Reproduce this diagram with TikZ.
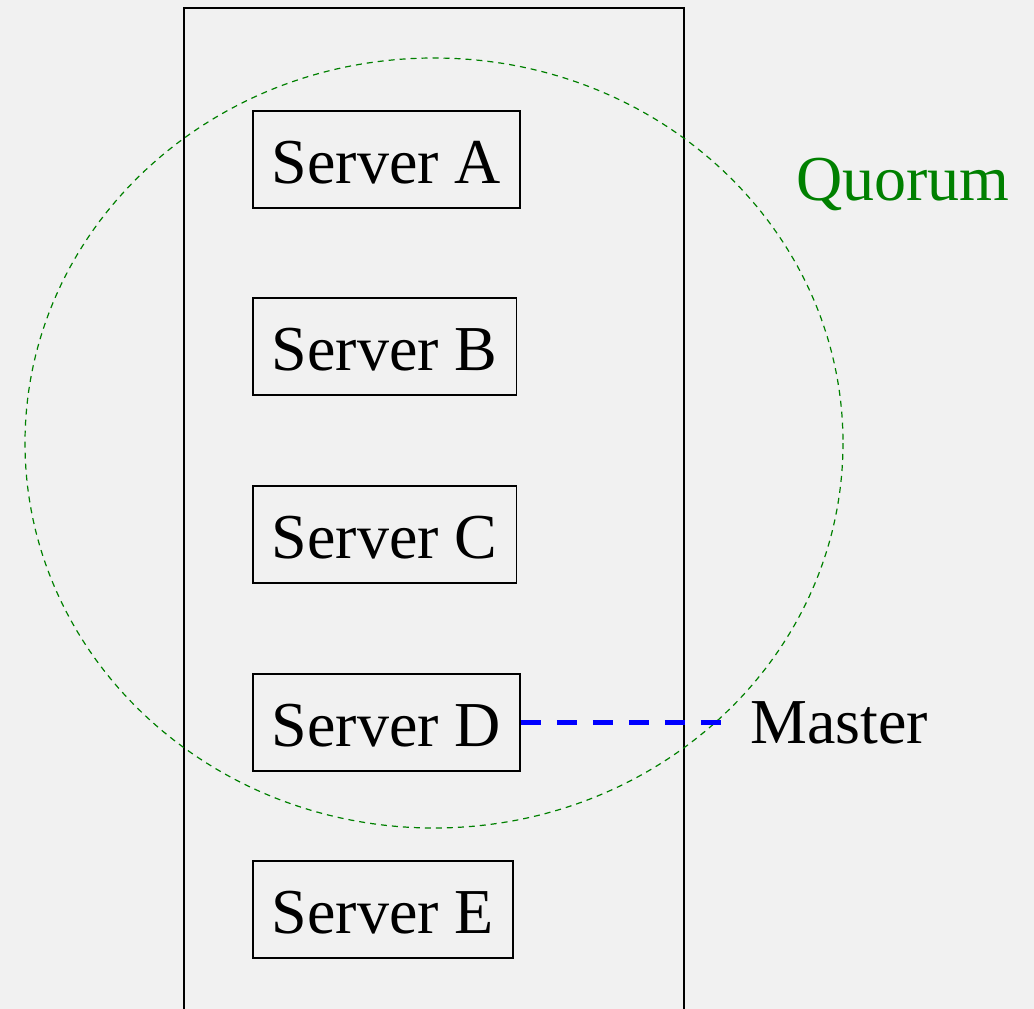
\documentclass[tikz,border=0pt]{standalone}
\usepackage{fontspec}
\setmainfont{Liberation Serif}
\definecolor{bg}{HTML}{F1F1F1}
\definecolor{qgreen}{RGB}{0,128,0}
\begin{document}
\begin{tikzpicture}[x=1pt,y=-1pt,
  server/.style={draw=black,line width=1.5pt,anchor=west,minimum height=97pt,inner xsep=19pt,text height=47pt,text depth=0pt,font=\fontsize{64}{64}\selectfont},
  lbl/.style={inner sep=0pt,anchor=base west,font=\fontsize{64}{64}\selectfont}]
\useasboundingbox (0,0) rectangle (1034,1009);
\fill[bg] (0,0) rectangle (1034,1009);
\draw[line width=1.5pt] (184,1009) -- (184,8) -- (684,8) -- (684,1009);
\node[server] (A) at (252,159.5) {Server A};
\node[server] (B) at (252,346.5) {Server B};
\node[server] (C) at (252,534.5) {Server C};
\node[server] (D) at (252,722.5) {Server D};
\node[server] (E) at (252,909.5) {Server E};
\draw[qgreen,line width=1.2pt,dash pattern=on 6pt off 5pt] (434,443) ellipse [x radius=409,y radius=385];
\node[lbl,text=qgreen] (Q) at (796,200) {Quorum};
\node[lbl] (M) at (750,743) {Master};
\draw[blue,line width=4.5pt,dash pattern=on 20pt off 16pt,shorten >=20pt] (D.east) -- (M.west |- D.east);
\end{tikzpicture}
\end{document}
